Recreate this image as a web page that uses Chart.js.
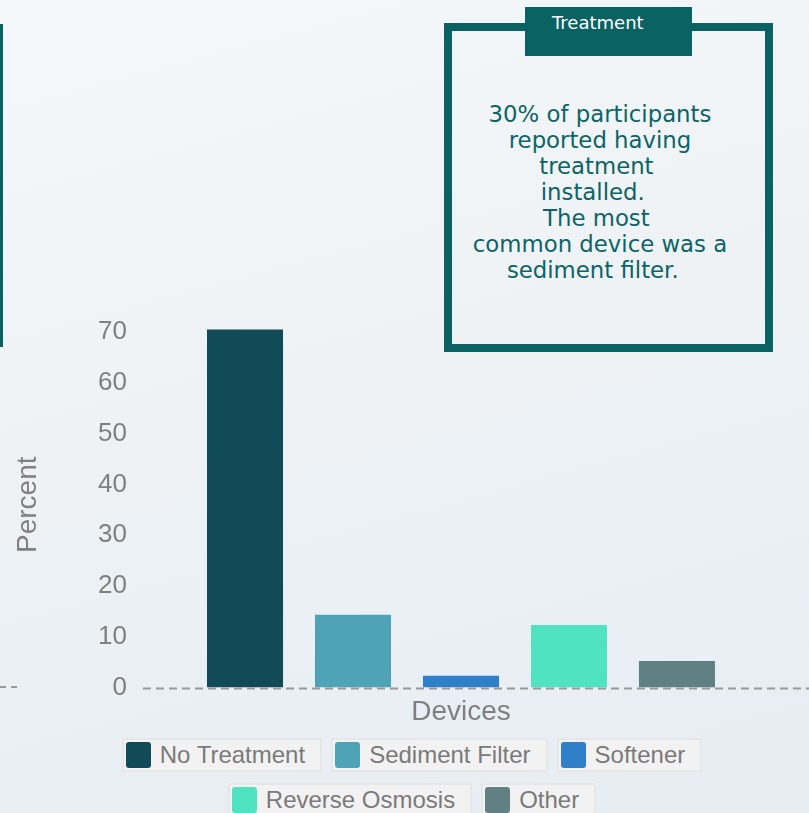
<!DOCTYPE html>
<html>
<head>
<meta charset="utf-8">
<script src="https://cdn.jsdelivr.net/npm/chart.js@4.4.1/dist/chart.umd.min.js"></script>
<style>
    html, body {
        margin: 0;
        padding: 0;
        width: 809px;
        height: 813px;
        overflow: hidden;
    }
    body {
        position: relative;
        background: linear-gradient(165deg, #f5f8fa 0%, #eef2f5 45%, #e6edf3 100%);
        font-family: "Liberation Sans", Arial, sans-serif;
    }
    .panelEdge {
        position: absolute;
        left: 0;
        top: 24px;
        width: 3px;
        height: 323px;
        background: #0b6263;
    }
    .panelDash {
        position: absolute;
        left: 0;
        top: 686px;
        width: 17px;
        border-top: 2px dashed #9a9a9a;
    }
    .cajaTratamiento {
        position: absolute;
        left: 444px;
        top: 23px;
        width: 329px;
        height: 329px;
        border: 8px solid #0b6263;
        box-sizing: border-box;
    }
    .pestana {
        position: absolute;
        left: 525px;
        top: 7px;
        width: 167px;
        height: 49px;
        background: #0b6263;
        color: #ffffff;
        font-family: "DejaVu Sans", sans-serif;
        font-size: 18px;
        box-sizing: border-box;
        padding: 5px 0 0 27px;
    }
    .textoCaja {
        position: absolute;
        left: 452px;
        top: 101px;
        width: 296px;
        text-align: center;
        color: #0d6466;
        font-family: "DejaVu Sans", sans-serif;
        font-size: 22.8px;
        line-height: 26px;
        white-space: pre;
    }
    #contenedorGrafica {
        position: absolute;
        left: 0;
        top: 290px;
        width: 809px;
        height: 440px;
    }
    #leyenda {
        position: absolute;
        left: 112px;
        top: 738px;
        width: 600px;
        display: flex;
        flex-wrap: wrap;
        justify-content: center;
        column-gap: 9px;
        row-gap: 11px;
    }
    .itemLeyenda {
        display: flex;
        align-items: center;
        height: 34px;
        box-sizing: border-box;
        border: 2px solid #e6e7e8;
        background: #f2f2f2;
        padding: 0 15px 0 2px;
        color: #7a7a7a;
        font-size: 24px;
        white-space: nowrap;
    }
    .cuadroColor {
        width: 25px;
        height: 26px;
        border-radius: 3px;
        margin-right: 9px;
    }
</style>
</head>
<body>
<div class="panelEdge"></div>
<div class="panelDash"></div>

<div class="cajaTratamiento"></div>
<div class="pestana">Treatment</div>
<div class="textoCaja">30% of participants
reported having
treatment 
installed.  
The most 
common device was a
sediment filter.  </div>

<div id="contenedorGrafica"><canvas id="graficaBarras"></canvas></div>
<div id="leyenda"></div>

<script>
    var dispositivos = ['No Treatment', 'Sediment Filter', 'Softener', 'Reverse Osmosis', 'Other'];
    var porcentajes = [70.5, 14.3, 2.3, 12.3, 5.2];
    var colores = ['#114b57', '#4ea3b6', '#2f7fc9', '#50e3c2', '#618084'];
    var etiquetasX = [''];
    var yMaximo = 72;
    var yPaso = 10;

    var grisTexto = '#808080';

    var datasets = dispositivos.map(function (nombre, index) {
        return {
            label: nombre,
            data: [porcentajes[index]],
            backgroundColor: colores[index],
            borderWidth: 0
        };
    });

    // linea punteada del cero, sigue hasta el borde derecho
    var lineaCero = {
        id: 'lineaCero',
        afterDatasetsDraw: function (chart) {
            var ctx = chart.ctx;
            var y = chart.scales.y.getPixelForValue(0) + 1;
            ctx.save();
            ctx.strokeStyle = '#9a9a9a';
            ctx.lineWidth = 2;
            ctx.setLineDash([8, 5]);
            ctx.beginPath();
            ctx.moveTo(chart.chartArea.left, y);
            ctx.lineTo(chart.width, y);
            ctx.stroke();
            ctx.restore();
        }
    };

    var ctx = document.getElementById('graficaBarras').getContext('2d');
    var graficaBarras = new Chart(ctx, {
        type: 'bar',
        data: {
            labels: etiquetasX,
            datasets: datasets
        },
        options: {
            responsive: true,
            maintainAspectRatio: false,
            animation: false,
            categoryPercentage: 0.849,
            barPercentage: 0.704,
            layout: {
                padding: { top: 32, bottom: 1, left: 7, right: 30 }
            },
            plugins: {
                legend: { display: false },
                tooltip: { enabled: false }
            },
            scales: {
                x: {
                    grid: { display: false, drawTicks: false },
                    border: { display: false },
                    ticks: { display: false },
                    title: {
                        display: true,
                        text: 'Devices',
                        color: grisTexto,
                        font: { family: 'Liberation Sans', size: 28 },
                        padding: { top: 8, bottom: 0 }
                    }
                },
                y: {
                    min: 0,
                    max: yMaximo,
                    afterFit: function (scale) {
                        scale.width = 136;
                    },
                    grid: { display: false, drawTicks: false },
                    border: { display: false },
                    ticks: {
                        stepSize: yPaso,
                        includeBounds: false,
                        padding: 16,
                        color: grisTexto,
                        font: { family: 'Liberation Sans', size: 26 }
                    },
                    title: {
                        display: true,
                        text: 'Percent',
                        color: grisTexto,
                        font: { family: 'Liberation Sans', size: 28 },
                        padding: { top: 4, bottom: 4 }
                    }
                }
            }
        },
        plugins: [lineaCero]
    });

    // leyenda en html, con los items que da chart.js
    var leyenda = document.getElementById('leyenda');
    var items = graficaBarras.options.plugins.legend.labels.generateLabels(graficaBarras);
    items.forEach(function (item) {
        var div = document.createElement('div');
        div.className = 'itemLeyenda';
        var cuadro = document.createElement('span');
        cuadro.className = 'cuadroColor';
        cuadro.style.background = item.fillStyle;
        div.appendChild(cuadro);
        div.appendChild(document.createTextNode(item.text));
        leyenda.appendChild(div);
    });
</script>
</body>
</html>
